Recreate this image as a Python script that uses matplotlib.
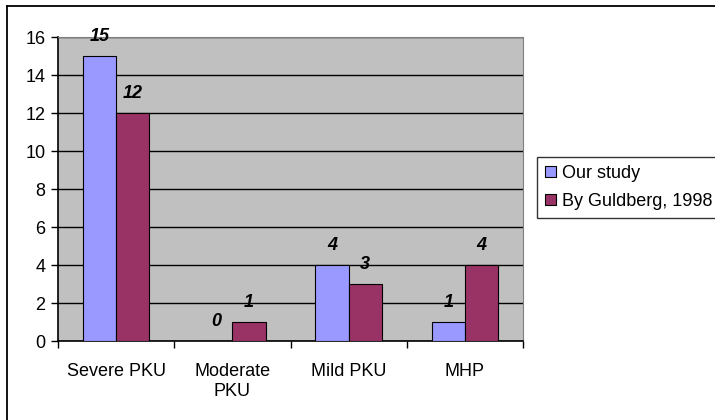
import numpy as np
import matplotlib.pyplot as plt
from matplotlib.lines import Line2D
from matplotlib.patches import Patch

plt.rcParams['font.family'] = ['Liberation Sans', 'DejaVu Sans']

categories = ['Severe PKU', 'Moderate\nPKU', 'Mild PKU', 'MHP']
our_study = [15, 0, 4, 1]
guldberg = [12, 1, 3, 4]
series_names = ['Our study', 'By Guldberg, 1998']

blue = '#9999FF'
maroon = '#993366'

fig = plt.figure(figsize=(7.15, 4.2), dpi=100)

# chart frame: left and top edges
fx, fy = 6.5 / 715, 1 - 5.5 / 420
fig.add_artist(Line2D([fx, fx], [0, fy], transform=fig.transFigure, color='black', lw=1.3))
fig.add_artist(Line2D([fx, 1], [fy, fy], transform=fig.transFigure, color='black', lw=1.3))

ax = fig.add_axes([58 / 715, 79 / 420, 465 / 715, 304 / 420])
ax.set_facecolor('#C0C0C0')

x = np.arange(len(categories))
w = 0.2857
b1 = ax.bar(x - w / 2, our_study, w, color=blue, edgecolor='black', lw=0.8, zorder=3)
b2 = ax.bar(x + w / 2, guldberg, w, color=maroon, edgecolor='black', lw=0.8, zorder=3)

for bars, vals in ((b1, our_study), (b2, guldberg)):
    for bar, v in zip(bars, vals):
        ax.annotate(str(v), (bar.get_x() + bar.get_width() / 2, v),
                    xytext=(0, 8), textcoords='offset points',
                    ha='center', va='bottom', fontsize=13,
                    fontweight='bold', fontstyle='italic')

ax.set_xlim(-0.5, 3.5)
ax.set_ylim(0, 16)
ax.set_yticks(np.arange(0, 17, 2))
ax.yaxis.grid(True, color='black', lw=1.0, zorder=1)
ax.set_axisbelow(True)

ax.set_xticks(np.arange(-0.5, 4, 1))
ax.set_xticklabels([])
ax.set_xticks(x, minor=True)
ax.set_xticklabels(categories, minor=True, fontsize=13, linespacing=1.25)
ax.tick_params(axis='x', which='minor', length=0, pad=16)
ax.tick_params(axis='x', which='major', length=5, width=1, direction='out')
ax.tick_params(axis='y', length=5, width=1, labelsize=13, pad=4)

for s in ('top', 'right'):
    ax.spines[s].set_color('#808080')
for s in ('left', 'bottom'):
    ax.spines[s].set_color('black')
    ax.spines[s].set_linewidth(1.2)

handles = [Patch(facecolor=blue, edgecolor='black', lw=0.8),
           Patch(facecolor=maroon, edgecolor='black', lw=0.8)]
leg = fig.legend(handles, series_names, loc='upper left',
                 bbox_to_anchor=(537 / 715, 1 - 157 / 420), fontsize=13,
                 frameon=True, fancybox=False, edgecolor='black',
                 handlelength=0.6, handleheight=0.6, handletextpad=0.35,
                 borderpad=0.45, labelspacing=0.6, borderaxespad=0)
leg.get_frame().set_linewidth(1.0)

fig.savefig('out.png', dpi=100)
